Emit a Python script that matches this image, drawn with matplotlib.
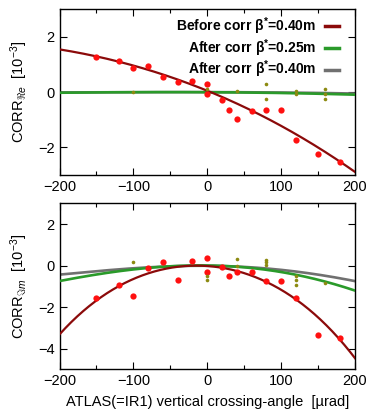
import numpy as np
import matplotlib
matplotlib.use("Agg")
import matplotlib.pyplot as plt
from matplotlib.ticker import MultipleLocator

plt.rcParams['font.family'] = ['Liberation Sans', 'DejaVu Sans']
plt.rcParams['mathtext.fontset'] = 'custom'
plt.rcParams['mathtext.rm'] = 'Liberation Sans'
plt.rcParams['mathtext.it'] = 'Liberation Sans:italic'
plt.rcParams['mathtext.bf'] = 'Liberation Sans:bold'

# ---- data ----
# Top panel: CORR_Re
re_before_x = [-150, -120, -100, -80, -60, -40, -20, 0, 0, 20, 30, 40, 60, 80, 100, 120, 150, 180]
re_before_y = [1.27, 1.13, 0.89, 0.93, 0.55, 0.37, 0.39, 0.29, -0.07, -0.29, -0.64, -0.98, -0.69, -0.65, -0.63, -1.73, -2.25, -2.53]
re_after_x = [-100, 0, 40, 80, 80, 120, 120, 160, 160, 160]
re_after_y = [0.01, 0.12, 0.04, 0.28, -0.24, 0.06, -0.06, 0.10, -0.08, -0.23]

# Bottom panel: CORR_Im
im_before_x = [-150, -120, -100, -80, -60, -40, -20, 0, 0, 20, 30, 40, 60, 80, 100, 120, 150, 180]
im_before_y = [-1.57, -0.96, -1.49, -0.13, 0.15, -0.68, 0.23, 0.37, -0.29, -0.06, -0.50, -0.29, -0.29, -0.75, -0.76, -1.56, -3.36, -3.47]
im_after_x = [-100, 0, 0, 40, 40, 80, 80, 80, 120, 120, 120, 160]
im_after_y = [0.15, -0.52, -0.68, 0.31, -0.02, 0.26, 0.16, 0.02, -0.49, -0.71, -0.96, -0.84]

# Fitted curves
curve_x = [-200, -150, -100, -50, 0, 50, 100, 150, 200]
re_fit_before = [1.54, 1.31, 0.98, 0.51, 0.06, -0.52, -1.23, -2.0, -2.89]
re_fit_b025 = [-0.02, -0.01, 0.0, 0.0, 0.0, -0.01, -0.03, -0.06, -0.09]
re_fit_b040 = [-0.01, 0.0, 0.0, 0.0, 0.0, 0.0, -0.01, -0.03, -0.05]
im_fit_before = [-3.34, -1.62, -0.68, -0.15, -0.02, -0.34, -1.12, -2.57, -4.44]
im_fit_b025 = [-0.75, -0.42, -0.20, -0.03, 0.0, -0.10, -0.28, -0.71, -1.20]
im_fit_b040 = [-0.44, -0.26, -0.15, -0.03, 0.0, -0.08, -0.20, -0.44, -0.75]

labels = [r'Before corr $\mathregular{\beta^{*}}$=0.40m',
          r'After corr $\mathregular{\beta^{*}}$=0.25m',
          r'After corr $\mathregular{\beta^{*}}$=0.40m']
xticks = [-200, -100, 0, 100, 200]

C_BEFORE = '#8b0a0a'
C_B025 = '#2a9a2a'
C_B040 = '#707070'
C_RED = '#ff1010'
C_OLIVE = '#8c8a10'

fig = plt.figure(figsize=(3.68, 4.12), dpi=100)
ax1 = fig.add_axes([0.1617, 0.5752, 0.8030, 0.4022])
ax2 = fig.add_axes([0.1617, 0.1036, 0.8030, 0.4030])

xs = np.linspace(-200, 200, 300)

def smooth(vals, deg):
    p = np.polyfit(curve_x, vals, deg)
    return np.polyval(p, xs)

def draw(ax, fb, f25, f40, bx, by, ax_x, ax_y, deg):
    ax.plot(xs, smooth(f40, deg), color=C_B040, lw=1.9, zorder=2, label=labels[2])
    ax.plot(xs, smooth(f25, deg), color=C_B025, lw=1.9, zorder=3, label=labels[1])
    ax.plot(xs, smooth(fb, deg), color=C_BEFORE, lw=1.6, zorder=4, label=labels[0])
    ax.plot(bx, by, 'o', color=C_RED, ms=4.5, mec='none', zorder=5)
    ax.plot(ax_x, ax_y, 'o', color=C_OLIVE, ms=2.6, mec='none', zorder=6)
    ax.set_xlim(-200, 200)
    ax.set_xticks(xticks)
    ax.xaxis.set_minor_locator(MultipleLocator(50))
    ax.tick_params(which='both', direction='in', top=True, right=True, labelsize=10.5)
    ax.tick_params(which='major', length=5, width=0.8)
    ax.tick_params(which='minor', length=3, width=0.8)
    for s in ax.spines.values():
        s.set_linewidth(1.0)

draw(ax1, re_fit_before, re_fit_b025, re_fit_b040, re_before_x, re_before_y, re_after_x, re_after_y, 3)
ax1.set_ylim(-3, 3)
ax1.set_yticks([-2, 0, 2])
ax1.set_ylabel(r'CORR$_{\Re e}$  [10$^{-3}$]', fontsize=10.5)
ax1.yaxis.set_label_coords(-0.1, 0.5)

h, l = ax1.get_legend_handles_labels()
order = [2, 1, 0]
leg = ax1.legend([h[i] for i in order], [l[i] for i in order], loc='upper right',
                 bbox_to_anchor=(0.945, 0.965),
                 markerfirst=False, frameon=False,
                 prop={'weight': 'bold', 'size': 10},
                 handlelength=1.0, handletextpad=0.6, labelspacing=0.02,
                 borderaxespad=0.0, borderpad=0.0)
for line in leg.get_lines():
    line.set_linewidth(2.5)

draw(ax2, im_fit_before, im_fit_b025, im_fit_b040, im_before_x, im_before_y, im_after_x, im_after_y, 4)
ax2.set_ylim(-5, 3)
ax2.set_yticks([-4, -2, 0, 2])
ax2.set_ylabel(r'CORR$_{\Im m}$  [10$^{-3}$]', fontsize=10.5)
ax2.yaxis.set_label_coords(-0.1, 0.5)
ax2.set_xlabel('ATLAS(=IR1) vertical crossing-angle  [\u00b5rad]', fontsize=10.5, labelpad=5)

fig.savefig('out.png', dpi=100)
